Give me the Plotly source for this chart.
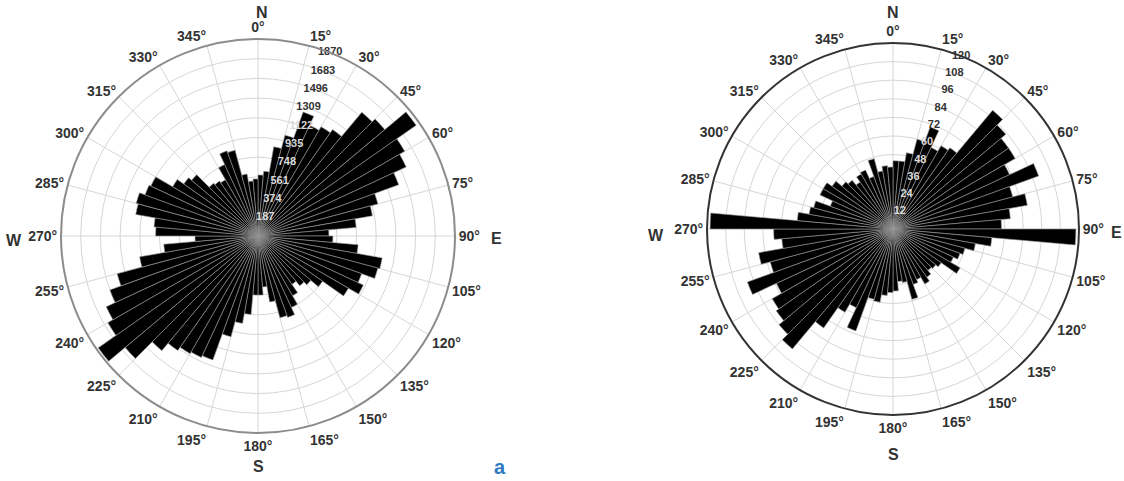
import plotly.graph_objects as go

# 5-degree bins (start angle, compass bearing clockwise from north)
bin_start = list(range(0, 360, 5))

left_counts = [580, 617, 860, 991, 1253, 1159, 1197, 1234, 1533, 1571, 1833, 1608,
               1552, 1421, 1178, 1103, 935, 673, 711, 954, 1197, 1178, 1047, 1103,
               991, 748, 655, 617, 561, 655, 748, 823, 804, 636, 486, 561,
               561, 748, 842, 991, 1253, 1272, 1290, 1328, 1421, 1646, 1851, 1646,
               1590, 1496, 1384, 1141, 898, 598, 972, 991, 1178, 1197, 1141, 1122,
               935, 860, 823, 655, 636, 617, 748, 860, 842, 598, 524, 542]

right_counts = [44, 44, 50, 60, 70, 58, 62, 64, 100, 95, 91, 91,
                83, 100, 80, 88, 76, 70, 118, 64, 54, 48, 46, 43,
                50, 38, 36, 35, 38, 41, 36, 38, 47, 35, 34, 40,
                41, 43, 48, 47, 70, 56, 62, 78, 101, 96, 92, 90,
                83, 100, 82, 88, 72, 77, 118, 62, 55, 53, 43, 52,
                52, 48, 43, 41, 37, 41, 42, 36, 47, 38, 41, 40]

left_ticks = [187, 374, 561, 748, 935, 1122, 1309, 1496, 1683, 1870]
right_ticks = [12, 24, 36, 48, 60, 72, 84, 96, 108, 120]

angle_ticks = list(range(0, 360, 15))
angle_labels = [f"{a}°" for a in angle_ticks]

W, H = 1124, 481
label_bearing = 21.5


def px(x, y):
    return x / W, 1 - y / H


fig = go.Figure()

panels = [
    ("polar", left_counts, left_ticks),
    ("polar2", right_counts, right_ticks),
]

for sp, counts, ticks in panels:
    fig.add_trace(go.Barpolar(
        r=counts,
        theta=[b + 2.5 for b in bin_start],
        width=[5] * len(bin_start),
        marker=dict(color="black", line=dict(color="#9a9a9a", width=0.6)),
        subplot=sp, showlegend=False, hoverinfo="skip",
    ))
    bar_at_label = counts[int(label_bearing // 5)]
    colors = ["#d8d8d8" if t < bar_at_label else "#333333" for t in ticks]
    fig.add_trace(go.Scatterpolar(
        r=ticks, theta=[label_bearing] * len(ticks), mode="text",
        text=[str(t) for t in ticks],
        textfont=dict(family="Arial", size=11, color=colors, weight="bold"),
        textposition="middle center", cliponaxis=False,
        subplot=sp, showlegend=False, hoverinfo="skip",
    ))


def polar_layout(x0, x1, y0, y1, rmax, ticks, linecolor):
    return dict(
        domain=dict(x=[x0, x1], y=[y0, y1]),
        bgcolor="white",
        angularaxis=dict(
            rotation=90, direction="clockwise",
            tickmode="array", tickvals=angle_ticks, ticktext=angle_labels,
            showgrid=True, gridcolor="#d6d6d6", gridwidth=1,
            showline=True, linecolor=linecolor, linewidth=2,
            ticks="", layer="above traces",
            tickfont=dict(family="Arial", size=14, color="#333333", weight="bold"),
        ),
        radialaxis=dict(
            range=[0, rmax], tickmode="array", tickvals=ticks,
            showticklabels=False, showline=False, ticks="",
            showgrid=True, gridcolor="#d6d6d6", gridwidth=1,
            layer="above traces",
        ),
    )


# left: centre (258,236) r=197 ; right: centre (893,229) r=186
lcx, lcy, lr = 258, 236, 197
rcx, rcy, rr = 893, 229, 186

fig.update_layout(
    width=W, height=H,
    margin=dict(l=0, r=0, t=0, b=0),
    paper_bgcolor="white",
    polar=polar_layout((lcx - lr) / W, (lcx + lr) / W,
                       1 - (lcy + lr) / H, 1 - (lcy - lr) / H,
                       left_ticks[-1], left_ticks, "#8c8c8c"),
    polar2=polar_layout((rcx - rr) / W, (rcx + rr) / W,
                        1 - (rcy + rr) / H, 1 - (rcy - rr) / H,
                        right_ticks[-1], right_ticks, "#333333"),
)

compass = [
    ("N", 262, 12), ("S", 258, 466), ("W", 14, 240), ("E", 496, 238),
    ("N", 893, 12), ("S", 893, 454), ("W", 656, 235), ("E", 1116, 232),
]
for txt, x, y in compass:
    xx, yy = px(x, y)
    fig.add_annotation(x=xx, y=yy, xref="paper", yref="paper", text=txt,
                       showarrow=False, xanchor="center", yanchor="middle",
                       font=dict(family="Arial", size=16, color="#333333", weight="bold"))

xx, yy = px(500, 467)
fig.add_annotation(x=xx, y=yy, xref="paper", yref="paper", text="a",
                   showarrow=False, xanchor="center", yanchor="middle",
                   font=dict(family="Arial", size=20, color="#2e7bc4", weight="bold"))

fig.write_html("out.html", config={"displayModeBar": False},
               post_script="document.body.style.margin='0px';")
